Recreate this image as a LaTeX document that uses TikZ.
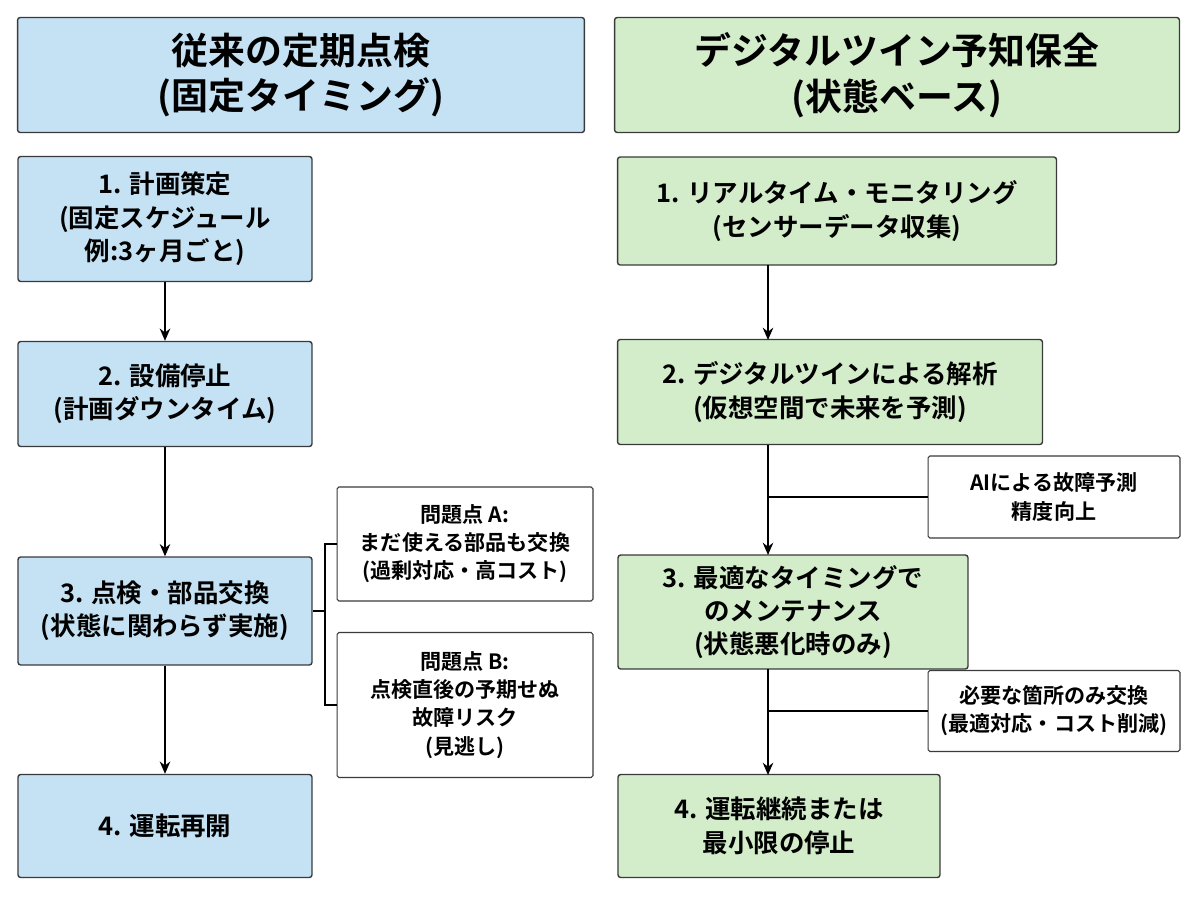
\documentclass[tikz,border=0pt]{standalone}
\usepackage{fontspec}
\setmainfont{Noto Sans CJK JP}[BoldFont={* Bold}]
\usetikzlibrary{arrows.meta}
\definecolor{cblue}{HTML}{C4E2F3}
\definecolor{cgreen}{HTML}{D3EDCA}
\definecolor{cline}{HTML}{3A3A3A}
\begin{document}
\begin{tikzpicture}[
  x=0.02cm, y=-0.02cm,
  box/.style={rectangle, draw=cline, line width=0.8pt, rounded corners=1.5pt, align=center, font=\bfseries\fontsize{14.5}{19}\selectfont, inner sep=0pt},
  head/.style={box, font=\bfseries\fontsize{21}{26}\selectfont},
  note/.style={box, fill=white, rounded corners=1pt, line width=0.6pt, font=\bfseries\fontsize{12}{16}\selectfont},
  arr/.style={-{Stealth[length=7pt,width=6pt]}, line width=0.8pt, draw=black},
  ln/.style={line width=0.8pt, draw=black}
]
\useasboundingbox (0,0) rectangle (1200,896);
% Headers
\node[head, fill=cblue, minimum width=11.34cm, minimum height=2.3cm] (hl) at (301,75) {従来の定期点検\\(固定タイミング)};
\node[head, fill=cgreen, minimum width=11.3cm, minimum height=2.3cm] (hr) at (897,75) {デジタルツイン予知保全\\(状態ベース)};

% Left flow
\node[box, fill=cblue, minimum width=5.88cm, minimum height=2.5cm] (l1) at (165,219) {1. 計画策定\\(固定スケジュール\\例:3ヶ月ごと)};
\node[box, fill=cblue, minimum width=5.88cm, minimum height=2.1cm] (l2) at (165,394) {2. 設備停止\\(計画ダウンタイム)};
\node[box, fill=cblue, minimum width=5.88cm, minimum height=2.16cm] (l3) at (165,611) {3. 点検・部品交換\\(状態に関わらず実施)};
\node[box, fill=cblue, minimum width=5.88cm, minimum height=2.06cm] (l4) at (165,826) {4. 運転再開};
\node[note, minimum width=5.12cm, minimum height=2.28cm] (pa) at (465,544) {問題点 A:\\まだ使える部品も交換\\(過剰対応・高コスト)};
\node[note, minimum width=5.12cm, minimum height=2.9cm] (pb) at (465,705) {問題点 B:\\点検直後の予期せぬ\\故障リスク\\(見逃し)};
\coordinate (br) at (325,611);

% Right flow
\node[box, fill=cgreen, minimum width=8.78cm, minimum height=2.16cm] (r1) at (837,211) {1. リアルタイム・モニタリング\\(センサーデータ収集)};
\node[box, fill=cgreen, minimum width=8.5cm, minimum height=2.1cm] (r2) at (830,392) {2. デジタルツインによる解析\\(仮想空間で未来を予測)};
\node[box, fill=cgreen, minimum width=7cm, minimum height=2.28cm] (r3) at (793,612) {3. 最適なタイミングで\\のメンテナンス\\(状態悪化時のみ)};
\node[box, fill=cgreen, minimum width=6.44cm, minimum height=2.06cm] (r4) at (779,826) {4. 運転継続または\\最小限の停止};
\node[note, minimum width=5.04cm, minimum height=1.64cm] (na) at (1054,497) {AIによる故障予測\\精度向上};
\node[note, minimum width=5.04cm, minimum height=1.62cm] (nb) at (1054,711) {必要な箇所のみ交換\\(最適対応・コスト削減)};

% Connections
\draw[arr] (l1) -- (l2);
\draw[arr] (l2) -- (l3);
\draw[arr] (l3) -- (l4);
\draw[ln] (l3.east) -- (br);
\draw[ln] (br) |- (pa.west);
\draw[ln] (br) |- (pb.west);
\draw[arr] (768,265) -- (768,340);
\draw[arr] (768,445) -- (768,555);
\draw[arr] (768,669) -- (768,775);
\draw[ln] (768,497) -- (na.west);
\draw[ln] (768,711) -- (nb.west);
\end{tikzpicture}
\end{document}
